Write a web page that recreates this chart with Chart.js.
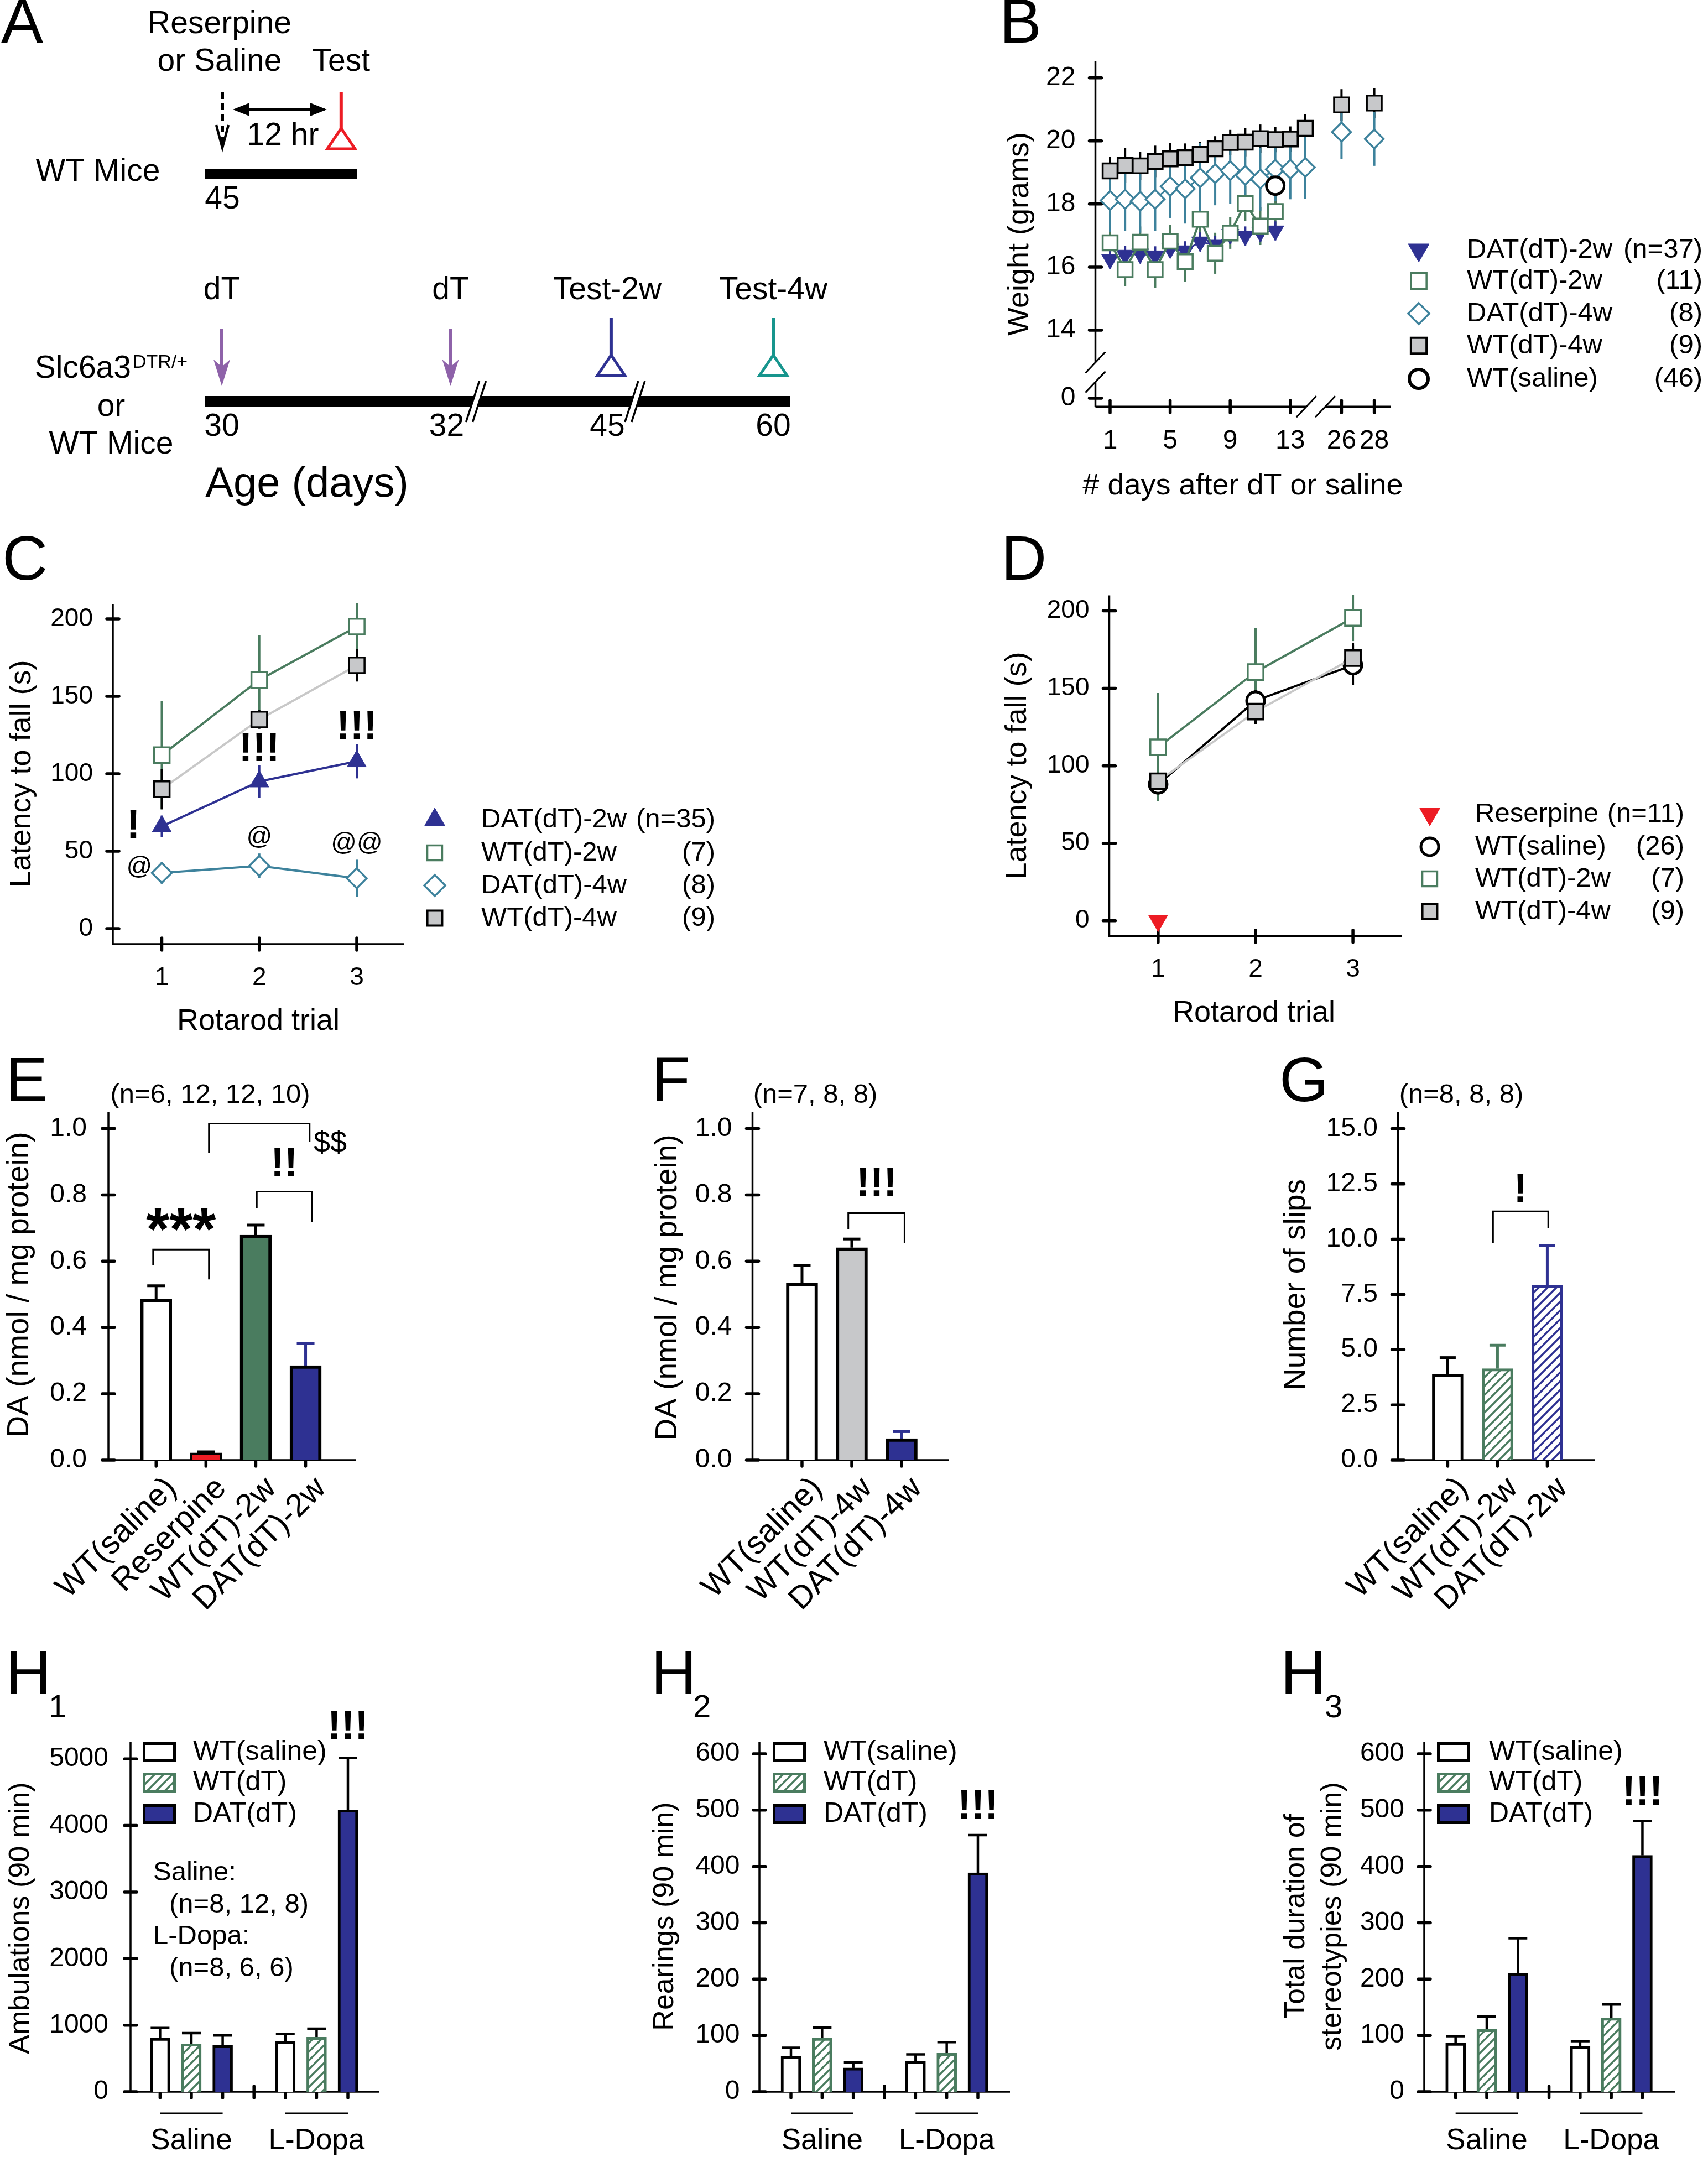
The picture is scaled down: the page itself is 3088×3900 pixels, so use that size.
<!DOCTYPE html>
<html>
<head>
<meta charset="utf-8">
<title>Figure</title>
<script src="https://cdn.jsdelivr.net/npm/chart.js@4.4.0/dist/chart.umd.min.js"></script>
<style>
  html, body { margin: 0; padding: 0; background: #fff; }
  #page { position: relative; width: 3088px; height: 3900px; overflow: hidden; background: #fff; }
  #page canvas { position: absolute; }
</style>
</head>
<body>
<div id="page"></div>
<script>
(function () {
  "use strict";

  /* ---------- Data ---------- */
  // A: timeline
  const ageTicks = [30, 32, 45, 60];
  const ageEvents = ["dT", "dT", "Test-2w", "Test-4w"];
  const treatHours = [0, 12];

  // B: body weight (grams) by day after dT or saline
  const bDays = [1, 2, 3, 4, 5, 6, 7, 8, 9, 10, 11, 12, 13, 14, 26, 28];
  const bXTicks = [1, 5, 9, 13, 26, 28];
  const bYTicks = [0, 14, 16, 18, 20, 22];
  const bWT4w     = [19.05, 19.22, 19.21, 19.35, 19.43, 19.47, 19.57, 19.75, 19.95, 19.96, 20.07, 20.04, 20.06, 20.40, 21.14, 21.20];
  const bWT4wErr  = [0.45, 0.55, 0.45, 0.5, 0.5, 0.45, 0.4, 0.4, 0.4, 0.45, 0.45, 0.4, 0.4, 0.45, 0.5, 0.47];
  const bDAT4w    = [18.11, 18.15, 18.09, 18.15, 18.56, 18.48, 18.83, 18.96, 19.06, 18.91, 18.79, 19.10, 19.10, 19.16, 20.28, 20.06];
  const bDAT4wErr = [1.0, 1.0, 1.0, 1.0, 1.0, 1.1, 1.1, 1.0, 1.05, 1.05, 1.0, 1.0, 0.95, 1.0, 0.85, 0.85];
  const bWT2w     = [16.77, 15.92, 16.79, 15.92, 16.82, 16.17, 17.52, 16.44, 17.08, 18.02, 17.30, 17.76];
  const bWT2wErr  = [0.5, 0.53, 0.5, 0.57, 0.52, 0.63, 0.55, 0.65, 0.5, 0.55, 0.6, 0.55];
  const bDAT2w    = [16.25, 16.38, 16.42, 16.36, 16.58, 16.52, 16.80, 16.70, 17.04, 16.99, 17.11, 17.15];
  const bDAT2wErr = [0.3, 0.3, 0.3, 0.3, 0.3, 0.3, 0.3, 0.3, 0.3, 0.3, 0.3, 0.3];
  const bSalDays = [12], bSaline = [18.58], bSalineErr = [0.58];

  // C / D: rotarod latency to fall (s)
  const trials = [1, 2, 3];
  const latTicks = [0, 50, 100, 150, 200];
  const cDAT2w = [66, 95, 108],      cDAT2wErr = [7, 10.5, 11];
  const cWT2w  = [112, 160.5, 195],  cWT2wErr  = [35, 29, 15];
  const cDAT4w = [36, 40.5, 32.5],   cDAT4wErr = [7, 8, 12];
  const cWT4w  = [90, 135, 170],     cWT4wErr  = [13, 6, 10.5];
  const dResTrial = [1], dReserpine = [0];
  const dSaline = [88, 142, 165],    dSalineErr = [6, 7, 13];
  const dWT2w  = [112, 160.5, 195.5], dWT2wErr = [35, 28.5, 15];
  const dWT4w  = [90, 135, 169.5],   dWT4wErr  = [4, 8, 10];

  // E / F: striatal DA (nmol / mg protein)
  const daTicks = [0, 0.2, 0.4, 0.6, 0.8, 1.0];
  const eGroups = ["WT(saline)", "Reserpine", "WT(dT)-2w", "DAT(dT)-2w"];
  const eSlots = [1, 2, 3, 4];
  const eDA = [0.486, 0.022, 0.679, 0.285], eDAErr = [0.04, 0.003, 0.03, 0.067];
  const fGroups = ["WT(saline)", "WT(dT)-4w", "DAT(dT)-4w"];
  const fSlots = [1, 2, 3];
  const fDA = [0.535, 0.641, 0.065], fDAErr = [0.053, 0.026, 0.021];

  // G: number of slips
  const slipTicks = [0, 2.5, 5, 7.5, 10, 12.5, 15];
  const gGroups = ["WT(saline)", "WT(dT)-2w", "DAT(dT)-2w"];
  const gSlots = [1, 2, 3];
  const gSlips = [3.89, 4.14, 7.91], gSlipsErr = [0.75, 1.06, 1.81];

  // H: open field, Saline vs L-Dopa
  const hGroups = ["Saline", "L-Dopa"];
  const hSeries = ["WT(saline)", "WT(dT)", "DAT(dT)"];
  const hSlotWTsal = [1, 5], hSlotWTdT = [2, 6], hSlotDAT = [3, 7];
  const hGapTick = [4];
  const h1Ticks = [0, 1000, 2000, 3000, 4000, 5000];
  const h1WTsal = [806, 760],   h1WTsalErr = [151, 111];
  const h1WTdT  = [720, 820],   h1WTdTErr  = [161, 127];
  const h1DAT   = [695, 4235],  h1DATErr   = [151, 780];
  const h23Ticks = [0, 100, 200, 300, 400, 500, 600];
  const h2WTsal = [62.5, 54.2], h2WTsalErr = [15.5, 12];
  const h2WTdT  = [95.2, 68.5], h2WTdTErr  = [18.5, 19.6];
  const h2DAT   = [42.3, 388.7], h2DATErr  = [10, 67];
  const h3WTsal = [86.3, 80.4], h3WTsalErr = [12.5, 9.5];
  const h3WTdT  = [110.7, 131], h3WTdTErr  = [23, 23.8];
  const h3DAT   = [210, 419.6], h3DATErr   = [62.5, 61.3];

  /* ---------- Styles ---------- */
  const BLACK = "#000", WHITE = "#fff", BLUE = "#2e3192", GREEN = "#4a7c5f", TEAL = "#3d829c",
        GRAY = "#c7c8ca", LGRAY = "#c8c8c8", RED = "#ed1c24", PURPLE = "#8e62a9", CYAN = "#17958d";
  const FONT = '"Liberation Sans", Arial, Helvetica, sans-serif';
  const S = {
    dat2wDown: { style: "triangle", rot: 180, r: 18, fill: BLUE, stroke: BLUE, lw: 1, line: BLUE, err: BLUE, lineW: 3 },
    wt2wB:     { style: "rect", r: 19, fill: WHITE, stroke: GREEN, lw: 3.5, line: GREEN, err: GREEN, lineW: 4 },
    dat4wB:    { style: "rectRot", r: 17, fill: WHITE, stroke: TEAL, lw: 3.5, line: TEAL, err: TEAL, lineW: 3 },
    wt4wB:     { style: "rect", r: 19, fill: GRAY, stroke: BLACK, lw: 3.5, line: BLACK, err: BLACK, lineW: 3 },
    salineB:   { style: "circle", r: 16, fill: WHITE, stroke: BLACK, lw: 5, line: null, err: BLACK },
    dat2wUp:   { style: "triangle", rot: 0, r: 20, fill: BLUE, stroke: BLUE, lw: 1, line: BLUE, err: BLUE },
    wt2w:      { style: "rect", r: 20, fill: WHITE, stroke: GREEN, lw: 3.5, line: GREEN, err: GREEN },
    dat4w:     { style: "rectRot", r: 18, fill: WHITE, stroke: TEAL, lw: 3.5, line: TEAL, err: TEAL },
    wt4w:      { style: "rect", r: 20, fill: GRAY, stroke: BLACK, lw: 3.5, line: LGRAY, err: BLACK },
    saline:    { style: "circle", r: 16, fill: WHITE, stroke: BLACK, lw: 5, line: BLACK, err: BLACK },
    reserpine: { style: "triangle", rot: 180, r: 20, fill: RED, stroke: RED, lw: 1, line: null, err: RED }
  };
  const big = (st, r, lw) => Object.assign({}, st, { r, lw: lw || st.lw });

  /* ---------- Helpers ---------- */
  const page = document.getElementById("page");

  function seg(ctx, x1, y1, x2, y2) { ctx.beginPath(); ctx.moveTo(x1, y1); ctx.lineTo(x2, y2); ctx.stroke(); }

  function txt(ctx, t, x, y, size, op) {
    op = op || {};
    ctx.save();
    ctx.font = (op.weight || "normal") + " " + size + "px " + FONT;
    ctx.fillStyle = op.color || "#000";
    ctx.textAlign = op.align || "center";
    ctx.textBaseline = op.baseline || "middle";
    ctx.translate(x, y);
    if (op.rot) ctx.rotate(op.rot * Math.PI / 180);
    ctx.fillText(t, 0, 0);
    ctx.restore();
  }

  function marker(ctx, m, x, y) {
    const r = m.r;
    ctx.save();
    ctx.fillStyle = m.fill; ctx.strokeStyle = m.stroke; ctx.lineWidth = m.lw;
    ctx.beginPath();
    if (m.style === "rect") { const s = r * Math.SQRT1_2; ctx.rect(x - s, y - s, 2 * s, 2 * s); }
    else if (m.style === "rectRot") { ctx.moveTo(x - r, y); ctx.lineTo(x, y - r); ctx.lineTo(x + r, y); ctx.lineTo(x, y + r); ctx.closePath(); }
    else if (m.style === "triangle") {
      let a = (m.rot || 0) * Math.PI / 180;
      for (let k = 0; k < 3; k++) {
        const px = x + Math.sin(a) * r, py = y - Math.cos(a) * r;
        if (k) ctx.lineTo(px, py); else ctx.moveTo(px, py);
        a += 2 * Math.PI / 3;
      }
      ctx.closePath();
    } else ctx.arc(x, y, r, 0, 2 * Math.PI);
    ctx.fill();
    if (m.lw) ctx.stroke();
    ctx.restore();
  }

  function hatch(color) {
    const s = 16, c = document.createElement("canvas");
    c.width = c.height = s;
    const g = c.getContext("2d");
    g.fillStyle = "#fff"; g.fillRect(0, 0, s, s);
    g.strokeStyle = color; g.lineWidth = 3.5;
    g.beginPath();
    g.moveTo(0, s); g.lineTo(s, 0);
    g.moveTo(-2, 2); g.lineTo(2, -2);
    g.moveTo(s - 2, s + 2); g.lineTo(s + 2, s - 2);
    g.stroke();
    return g.createPattern(c, "repeat");
  }

  function pts(xs, ys, fx) { return ys.map((y, i) => ({ x: fx ? fx(xs[i]) : xs[i], y })); }

  function lineDS(data, err, st, cutX) {
    const ds = {
      data, err, errColor: st.err, errWidth: 4,
      showLine: !!st.line, borderColor: st.line || "rgba(0,0,0,0)", borderWidth: st.lineW || 4,
      pointStyle: st.style, pointRotation: st.rot || 0, pointRadius: st.r,
      pointBackgroundColor: st.fill, pointBorderColor: st.stroke, pointBorderWidth: st.lw,
      tension: 0, clip: false, fill: false
    };
    if (cutX) ds.segment = { borderColor: c => (c.p1.parsed.x > cutX ? "rgba(0,0,0,0)" : undefined) };
    return ds;
  }

  function drawAxes(chart, a) {
    const ctx = chart.ctx, xs = chart.scales.x, ys = chart.scales.y, ca = chart.chartArea;
    const X0 = ca.left, Y0 = ca.bottom;
    ctx.save();
    ctx.strokeStyle = "#000";
    ctx.lineWidth = 3.5;
    if (a.yBreak) {
      const p = a.yBreak.map(v => ys.getPixelForValue(v));
      seg(ctx, X0, ca.top, X0, p[0]); seg(ctx, X0, p[1], X0, Y0);
      ctx.lineWidth = 3;
      p.forEach(q => seg(ctx, X0 - 18, q + 19, X0 + 18, q - 19));
      ctx.lineWidth = 3.5;
    } else seg(ctx, X0, ca.top, X0, Y0);
    if (a.xBreak) {
      const p = a.xBreak.map(v => xs.getPixelForValue(v));
      seg(ctx, X0, Y0, p[0], Y0); seg(ctx, p[1], Y0, ca.right, Y0);
      ctx.lineWidth = 3;
      p.forEach(q => seg(ctx, q - 18, Y0 + 19, q + 18, Y0 - 19));
    } else seg(ctx, X0 - 1.75, Y0, ca.right, Y0);
    ctx.lineWidth = 5.5; ctx.lineCap = "round";
    a.yTicks.forEach(v => { const p = ys.getPixelForValue(v); seg(ctx, X0 - 11, p, X0 + 11, p); });
    a.xTicks.forEach(v => {
      const p = xs.getPixelForValue(v);
      if (a.xTickBelow) seg(ctx, p, Y0 + 3, p, Y0 + 11); else seg(ctx, p, Y0 - 11, p, Y0 + 11);
    });
    (a.xCross || []).forEach(v => { const p = xs.getPixelForValue(v); seg(ctx, p, Y0 - 10, p, Y0 + 11); });
    ctx.restore();
    a.yTicks.forEach((v, i) => txt(ctx, a.yLabels[i], X0 - a.yGap, ys.getPixelForValue(v), a.size, { align: "right" }));
    if (a.xLabels) a.xTicks.forEach((v, i) => {
      const p = xs.getPixelForValue(v);
      if (a.xRot) txt(ctx, a.xLabels[i], p + a.xDx, Y0 + a.xGap, a.xSize || a.size, { align: "right", rot: -a.xRot });
      else txt(ctx, a.xLabels[i], p, Y0 + a.xGap, a.xSize || a.size);
    });
  }

  function drawErrors(chart) {
    const ctx = chart.ctx, ys = chart.scales.y;
    chart.data.datasets.forEach((ds, i) => {
      if (!ds.err) return;
      const meta = chart.getDatasetMeta(i);
      ctx.save();
      ctx.lineWidth = ds.errWidth || 4;
      meta.data.forEach((el, j) => {
        const e = ds.err[j];
        if (e == null) return;
        const v = ds.data[j].y;
        ctx.strokeStyle = Array.isArray(ds.errColor) ? ds.errColor[j] : ds.errColor;
        const top = ys.getPixelForValue(v + e);
        const bot = ds.errUp ? el.y : ys.getPixelForValue(v - e);
        seg(ctx, el.x, top, el.x, bot);
        if (ds.errCap) seg(ctx, el.x - ds.errCap / 2, top, el.x + ds.errCap / 2, top);
      });
      ctx.restore();
    });
  }

  function drawLegend(ctx, L) {
    L.rows.forEach(r => {
      marker(ctx, r.m, L.mx, r.y);
      txt(ctx, r.label, L.tx, r.y, L.size, { align: "left" });
      if (r.count) txt(ctx, r.count, L.rx, r.y, L.size, { align: "right" });
    });
  }

  function drawBoxLegend(ctx, L) {
    L.rows.forEach(r => {
      ctx.save();
      ctx.fillStyle = r.fill;
      ctx.fillRect(L.bx, r.y - L.bh / 2, L.bw, L.bh);
      ctx.strokeStyle = r.stroke; ctx.lineWidth = 5;
      ctx.strokeRect(L.bx + 2.5, r.y - L.bh / 2 + 2.5, L.bw - 5, L.bh - 5);
      ctx.restore();
      txt(ctx, r.label, L.tx, r.y, L.size, { align: "left" });
    });
  }

  const sci = {
    id: "sci",
    beforeDatasetsDraw(chart, args, o) {
      if (o.axes) drawAxes(chart, o.axes);
      drawErrors(chart);
    },
    afterDatasetsDraw(chart, args, o) {
      const ctx = chart.ctx, xs = chart.scales.x, ys = chart.scales.y;
      const ox = o.origin[0], oy = o.origin[1];
      ctx.save();
      ctx.strokeStyle = "#000"; ctx.lineWidth = 3;
      (o.brackets || []).forEach(b => {
        const x1 = xs.getPixelForValue(b.x1), x2 = xs.getPixelForValue(b.x2), yt = ys.getPixelForValue(b.top);
        ctx.beginPath();
        ctx.moveTo(x1, ys.getPixelForValue(b.l)); ctx.lineTo(x1, yt);
        ctx.lineTo(x2, yt); ctx.lineTo(x2, ys.getPixelForValue(b.r));
        ctx.stroke();
      });
      (o.marks || []).forEach(m => txt(ctx, m.t, xs.getPixelForValue(m.x), ys.getPixelForValue(m.y), m.size, m));
      if (o.groups) {
        const G = o.groups;
        G.spans.forEach((s, i) => {
          const a = xs.getPixelForValue(s[0]), b = xs.getPixelForValue(s[s.length - 1]);
          seg(ctx, a, G.lineY - oy, b, G.lineY - oy);
          txt(ctx, G.labels[i], (a + b) / 2, G.y - oy, G.size);
        });
      }
      ctx.translate(-ox, -oy);
      (o.texts || []).forEach(t => txt(ctx, t.t, t.x, t.y, t.size, t));
      if (o.legend) drawLegend(ctx, o.legend);
      if (o.boxLegend) drawBoxLegend(ctx, o.boxLegend);
      if (o.extra) o.extra(ctx, chart);
      ctx.restore();
    }
  };

  function panel(box, plot, cfg) {
    const c = document.createElement("canvas");
    c.width = box.w; c.height = box.h;
    Object.assign(c.style, { left: box.x + "px", top: box.y + "px", width: box.w + "px", height: box.h + "px" });
    page.appendChild(c);
    const o = cfg.options;
    o.responsive = false; o.maintainAspectRatio = false; o.animation = false; o.devicePixelRatio = 1; o.events = [];
    o.layout = { padding: { left: plot.l - box.x, top: plot.t - box.y, right: box.x + box.w - plot.r, bottom: box.y + box.h - plot.b } };
    o.plugins = Object.assign({ legend: { display: false }, tooltip: { enabled: false } }, o.plugins);
    o.plugins.sci = Object.assign({ origin: [box.x, box.y] }, o.plugins.sci);
    Object.values(o.scales).forEach(s => { s.display = false; if (!s.type) s.type = "linear"; });
    cfg.plugins = [sci];
    return new Chart(c, cfg);
  }

  function letter(t, x, y) { return { t, x, y, size: 114, align: "left" }; }

  /* ---------- A: experimental timeline ---------- */
  function agePos(a) { return a <= 32 ? a : a <= 45 ? 32 + (a - 32) * 0.108 : 33.404 + (a - 45) * 0.0945; }

  function testMarker(ctx, x, y0, y1, y2, color) {
    ctx.save();
    ctx.strokeStyle = color; ctx.lineWidth = 6;
    seg(ctx, x, y0, x, y1);
    ctx.lineWidth = 5;
    ctx.beginPath(); ctx.moveTo(x, y1); ctx.lineTo(x - 25, y2); ctx.lineTo(x + 25, y2); ctx.closePath(); ctx.stroke();
    ctx.restore();
  }

  function drawSchematic(ctx, chart) {
    const xs = chart.scales.x, xh = chart.scales.xh;
    const ax = a => xs.getPixelForValue(agePos(a));
    const h0 = xh.getPixelForValue(treatHours[0]), h1 = xh.getPixelForValue(treatHours[1]);
    const F = 57;
    ctx.save();
    txt(ctx, "Reserpine", h0 - 5, 44, F);
    txt(ctx, "or Saline", h0 - 5, 112, F);
    txt(ctx, "Test", h1, 112, F);
    ctx.strokeStyle = BLACK; ctx.fillStyle = BLACK;
    ctx.lineWidth = 6; ctx.setLineDash([12, 8]);
    seg(ctx, h0, 167, h0, 258);
    ctx.setLineDash([]);
    ctx.lineWidth = 4.5;
    ctx.beginPath(); ctx.moveTo(h0 - 11, 226); ctx.lineTo(h0, 267); ctx.lineTo(h0 + 11, 226); ctx.stroke();
    ctx.lineWidth = 4;
    seg(ctx, h0 + 30, 198, h1 - 30, 198);
    [[h0 + 19, 1], [h1 - 26, -1]].forEach(([x, d]) => {
      ctx.beginPath(); ctx.moveTo(x, 198); ctx.lineTo(x + d * 30, 186); ctx.lineTo(x + d * 30, 210); ctx.closePath(); ctx.fill();
    });
    txt(ctx, "12 hr", (h0 + h1) / 2 + 2, 246, F);
    testMarker(ctx, h1, 166, 232, 269, RED);
    txt(ctx, "WT Mice", 177, 311, F);
    ctx.fillRect(h0 - 32, 306, h1 - h0 + 61, 18);
    txt(ctx, "45", h0, 361, F);

    ageTicks.forEach((a, i) => {
      const x = ax(a);
      txt(ctx, ageEvents[i], x - (i === 2 ? 7 : 0), 525, F);
      if (ageEvents[i] === "dT") {
        ctx.strokeStyle = PURPLE; ctx.fillStyle = PURPLE; ctx.lineWidth = 6;
        seg(ctx, x, 594, x, 680);
        ctx.beginPath(); ctx.moveTo(x, 698); ctx.lineTo(x - 15, 650); ctx.lineTo(x, 663); ctx.lineTo(x + 15, 650); ctx.closePath(); ctx.fill();
      } else testMarker(ctx, x, 575, 642, 679, i === 2 ? BLUE : CYAN);
    });
    ctx.fillStyle = BLACK;
    ctx.fillRect(ax(30) - 31, 716, ax(60) - ax(30) + 62, 19);
    [ax(32) + 46, ax(45) + 43].forEach(x => {
      ctx.fillStyle = WHITE;
      ctx.beginPath(); ctx.moveTo(x - 18, 763); ctx.lineTo(x + 6, 689); ctx.lineTo(x + 18, 689); ctx.lineTo(x - 6, 763); ctx.closePath(); ctx.fill();
      ctx.strokeStyle = BLACK; ctx.lineWidth = 3.5;
      seg(ctx, x - 18, 763, x + 6, 689); seg(ctx, x - 6, 763, x + 18, 689);
    });
    ageTicks.forEach(a => txt(ctx, String(a), ax(a) - (a === 32 || a === 45 ? 7 : 0), 772, F));
    txt(ctx, "Slc6a3", 237, 667, F, { align: "right" });
    txt(ctx, "DTR/+", 240, 656, 34, { align: "left" });
    txt(ctx, "or", 201, 736, F);
    txt(ctx, "WT Mice", 201, 804, F);
    txt(ctx, "Age (days)", 555, 877, 76);
    ctx.restore();
  }

  panel({ x: 0, y: 0, w: 1560, h: 940 }, { l: 401, r: 1398, t: 0, b: 940 }, {
    type: "line", data: { datasets: [] },
    options: {
      scales: {
        x: { type: "linear", min: agePos(30), max: agePos(60) },
        xh: { type: "linear", axis: "x", min: -0.056, max: 55.64 },
        y: { type: "linear", min: 0, max: 1 }
      },
      plugins: { sci: { texts: [letter("A", 2, 46)], extra: drawSchematic } }
    }
  });

  /* ---------- B: weight ---------- */
  function bX(d) { return d <= 14 ? d : 16.41 + (d - 26) * 1.09; }
  function bY(v) { return v === 0 ? 11.846 : v; }

  panel({ x: 1700, y: 0, w: 1388, h: 930 }, { l: 1980.5, r: 2515, t: 111, b: 735.3 }, {
    type: "line",
    data: { datasets: [
      lineDS(pts(bSalDays, bSaline, bX), bSalineErr, S.salineB),
      lineDS(pts(bDays, bWT4w, bX), bWT4wErr, S.wt4wB, 15),
      lineDS(pts(bDays, bWT2w, bX), bWT2wErr, S.wt2wB),
      lineDS(pts(bDays, bDAT4w, bX), bDAT4wErr, S.dat4wB, 15),
      lineDS(pts(bDays, bDAT2w, bX), bDAT2wErr, S.dat2wDown)
    ] },
    options: {
      scales: { x: { min: 0.024, max: 19.71 }, y: { min: 11.577, max: 22.52 } },
      plugins: { sci: {
        axes: { yTicks: bYTicks.map(bY), yLabels: bYTicks.map(String), yGap: 36, xTicks: bXTicks.map(bX), xLabels: bXTicks.map(String),
                xGap: 62, size: 48, yBreak: [12.98, 12.36], xBreak: [14.07, 15.33] },
        texts: [
          letter("B", 1807, 46),
          { t: "Weight (grams)", x: 1844, y: 423, size: 54, rot: -90 },
          { t: "# days after dT or saline", x: 2247, y: 879, size: 54 }
        ],
        legend: { mx: 2565, tx: 2652, rx: 3078, size: 49, rows: [
          { y: 452, label: "DAT(dT)-2w", count: "(n=37)", m: big(S.dat2wDown, 22) },
          { y: 508, label: "WT(dT)-2w", count: "(11)", m: big(S.wt2wB, 20) },
          { y: 567, label: "DAT(dT)-4w", count: "(8)", m: big(S.dat4wB, 19) },
          { y: 625, label: "WT(dT)-4w", count: "(9)", m: big(S.wt4wB, 20, 4) },
          { y: 685, label: "WT(saline)", count: "(46)", m: big(S.salineB, 17, 6) }
        ] }
      } }
    }
  });

  /* ---------- C: rotarod, dT groups ---------- */
  panel({ x: 0, y: 960, w: 1330, h: 930 }, { l: 204, r: 731, t: 1092, b: 1707 }, {
    type: "line",
    data: { datasets: [
      lineDS(pts(trials, cDAT2w), cDAT2wErr, S.dat2wUp),
      lineDS(pts(trials, cWT2w), cWT2wErr, S.wt2w),
      lineDS(pts(trials, cWT4w), cWT4wErr, S.wt4w),
      lineDS(pts(trials, cDAT4w), cDAT4wErr, S.dat4w)
    ] },
    options: {
      scales: { x: { min: 0.498, max: 3.488 }, y: { min: -10, max: 209.6 } },
      plugins: { sci: {
        axes: { yTicks: latTicks, yLabels: latTicks.map(String), yGap: 36, xTicks: trials, xLabels: trials.map(String), xGap: 61, size: 46 },
        marks: [
          { t: "!", x: 0.708, y: 66, size: 74, weight: "bold" },
          { t: "!!!", x: 2, y: 115.4, size: 74, weight: "bold" },
          { t: "!!!", x: 3, y: 129.6, size: 74, weight: "bold" },
          { t: "@", x: 0.77, y: 39.6, size: 46 },
          { t: "@", x: 2, y: 58.9, size: 46 },
          { t: "@@", x: 3, y: 55, size: 46 }
        ],
        texts: [
          letter("C", 4, 1017),
          { t: "Latency to fall (s)", x: 40, y: 1399, size: 54, rot: -90 },
          { t: "Rotarod trial", x: 467, y: 1847, size: 54 }
        ],
        legend: { mx: 786, tx: 870, rx: 1293, size: 49, rows: [
          { y: 1482, label: "DAT(dT)-2w", count: "(n=35)", m: big(S.dat2wUp, 21) },
          { y: 1542, label: "WT(dT)-2w", count: "(7)", m: big(S.wt2w, 19) },
          { y: 1601, label: "DAT(dT)-4w", count: "(8)", m: big(S.dat4w, 19) },
          { y: 1660, label: "WT(dT)-4w", count: "(9)", m: big(S.wt4w, 19, 4) }
        ] }
      } }
    }
  });

  /* ---------- D: rotarod, reserpine ---------- */
  panel({ x: 1740, y: 950, w: 1348, h: 940 }, { l: 2005.5, r: 2535, t: 1076.5, b: 1692.8 }, {
    type: "line",
    data: { datasets: [
      lineDS(pts(trials, dWT2w), dWT2wErr, S.wt2w),
      lineDS(pts(trials, dWT4w), dWT4wErr, S.wt4w),
      lineDS(pts(trials, dSaline), dSalineErr, S.saline),
      lineDS(pts(dResTrial, dReserpine), null, S.reserpine)
    ] },
    options: {
      scales: { x: { min: 0.498, max: 3.505 }, y: { min: -10, max: 210 } },
      plugins: { sci: {
        axes: { yTicks: latTicks, yLabels: latTicks.map(String), yGap: 36, xTicks: trials, xLabels: trials.map(String), xGap: 61, size: 46 },
        texts: [
          letter("D", 1810, 1017),
          { t: "Latency to fall (s)", x: 1840, y: 1384, size: 54, rot: -90 },
          { t: "Rotarod trial", x: 2267, y: 1832, size: 54 }
        ],
        legend: { mx: 2585, tx: 2667, rx: 3045, size: 49, rows: [
          { y: 1472, label: "Reserpine", count: "(n=11)", m: big(S.reserpine, 21) },
          { y: 1531, label: "WT(saline)", count: "(26)", m: big(S.saline, 16) },
          { y: 1589, label: "WT(dT)-2w", count: "(7)", m: big(S.wt2w, 19) },
          { y: 1648, label: "WT(dT)-4w", count: "(9)", m: big(S.wt4w, 19, 4) }
        ] }
      } }
    }
  });

  /* ---------- E / F / G: bar panels ---------- */
  function barAxes(ticks, slots, names, gap, dp) {
    return { yTicks: ticks, yLabels: ticks.map(v => v.toFixed(dp)), yGap: gap, xTicks: slots, xLabels: names,
             xTickBelow: true, xRot: 45, xDx: 28, xGap: 42, size: 48, xSize: 58 };
  }

  panel({ x: 0, y: 1900, w: 760, h: 1040 }, { l: 196, r: 643, t: 2010, b: 2640 }, {
    type: "bar",
    data: { datasets: [{
      data: pts(eSlots, eDA), backgroundColor: [WHITE, RED, GREEN, BLUE], borderColor: BLACK, borderWidth: [6, 4, 6, 6],
      barThickness: 57, err: eDAErr, errColor: [BLACK, BLACK, BLACK, BLUE], errUp: true, errCap: 32, errWidth: 5
    }] },
    options: {
      scales: { x: { type: "linear", min: 0.043, max: 5.004, offset: false }, y: { min: 0, max: 1.051 } },
      plugins: { sci: {
        axes: barAxes(daTicks, eSlots, eGroups, 39, 1),
        brackets: [
          { x1: 0.94, x2: 2.06, top: 0.635, l: 0.589, r: 0.545 },
          { x1: 3.02, x2: 4.13, top: 0.81, l: 0.76, r: 0.718 },
          { x1: 2.06, x2: 4.08, top: 1.015, l: 0.927, r: 0.96 }
        ],
        marks: [
          { t: "***", x: 1.5, y: 0.635, size: 108, weight: "bold", baseline: "alphabetic" },
          { t: "!!", x: 3.57, y: 0.89, size: 74, weight: "bold" },
          { t: "$$", x: 4.16, y: 0.954, size: 54, align: "left" }
        ],
        texts: [
          letter("E", 10, 1960),
          { t: "(n=6, 12, 12, 10)", x: 380, y: 1980, size: 49 },
          { t: "DA (nmol / mg protein)", x: 36, y: 2323, size: 55, rot: -90 }
        ]
      } }
    }
  });

  panel({ x: 1143, y: 1900, w: 600, h: 1040 }, { l: 1360.5, r: 1715, t: 2010, b: 2640 }, {
    type: "bar",
    data: { datasets: [{
      data: pts(fSlots, fDA), backgroundColor: [WHITE, GRAY, BLUE], borderColor: BLACK, borderWidth: 6,
      barThickness: 57, err: fDAErr, errColor: [BLACK, BLACK, BLUE], errUp: true, errCap: 31, errWidth: 5
    }] },
    options: {
      scales: { x: { type: "linear", min: 0.006, max: 3.944, offset: false }, y: { min: 0, max: 1.051 } },
      plugins: { sci: {
        axes: barAxes(daTicks, fSlots, fGroups, 37, 1),
        brackets: [{ x1: 1.93, x2: 3.06, top: 0.745, l: 0.697, r: 0.654 }],
        marks: [{ t: "!!!", x: 2.5, y: 0.832, size: 74, weight: "bold" }],
        texts: [
          letter("F", 1178, 1960),
          { t: "(n=7, 8, 8)", x: 1474, y: 1980, size: 49 },
          { t: "DA (nmol / mg protein)", x: 1208, y: 2328, size: 55, rot: -90 }
        ]
      } }
    }
  });

  panel({ x: 2250, y: 1900, w: 700, h: 1040 }, { l: 2527.5, r: 2884, t: 2010, b: 2640 }, {
    type: "bar",
    data: { datasets: [{
      data: pts(gSlots, gSlips), backgroundColor: [WHITE, hatch(GREEN), hatch(BLUE)], borderColor: [BLACK, GREEN, BLUE], borderWidth: 5,
      barThickness: 56, err: gSlipsErr, errColor: [BLACK, GREEN, BLUE], errUp: true, errCap: 29, errWidth: 5
    }] },
    options: {
      scales: { x: { type: "linear", min: 0.001, max: 3.962, offset: false }, y: { min: 0, max: 15.77 } },
      plugins: { sci: {
        axes: barAxes(slipTicks, gSlots, gGroups, 36.5, 1),
        brackets: [{ x1: 1.91, x2: 3.02, top: 11.26, l: 9.84, r: 10.5 }],
        marks: [{ t: "!", x: 2.46, y: 12.19, size: 74, weight: "bold" }],
        texts: [
          letter("G", 2313, 1960),
          { t: "(n=8, 8, 8)", x: 2642, y: 1980, size: 49 },
          { t: "Number of slips", x: 2344, y: 2323, size: 55, rot: -90 }
        ]
      } }
    }
  });

  /* ---------- H1-H3: open field ---------- */
  const hFill = [WHITE, hatch(GREEN), BLUE], hBorder = [BLACK, GREEN, BLACK];
  const hSlotSets = [hSlotWTsal, hSlotWTdT, hSlotDAT];
  const hSpans = hGroups.map((g, i) => hSlotSets.map(s => s[i]));

  function hPanel(box, plot, xr, yMax, ticks, gap, vals, errs, bangY, lx, texts) {
    const barTicks = [].concat(...hSlotSets).sort((a, b) => a - b);
    return panel(box, plot, {
      type: "bar",
      data: { datasets: hSeries.map((name, s) => ({
        label: name, data: pts(hSlotSets[s], vals[s]), backgroundColor: hFill[s], borderColor: hBorder[s], borderWidth: 5,
        barThickness: 36, grouped: false, err: errs[s], errColor: BLACK, errUp: true, errCap: 34, errWidth: 4.5
      })) },
      options: {
        scales: { x: { type: "linear", min: xr[0], max: xr[1], offset: false }, y: { min: 0, max: yMax } },
        plugins: { sci: {
          axes: { yTicks: ticks, yLabels: ticks.map(String), yGap: gap, xTicks: barTicks, xTickBelow: true, xCross: hGapTick, size: 48 },
          marks: [{ t: "!!!", x: hSlotDAT[1], y: bangY, size: 74, weight: "bold" }],
          groups: { labels: hGroups, spans: hSpans, y: 3871, lineY: 3821, size: 53 },
          boxLegend: { bx: lx[0], bw: 60, bh: 36, tx: lx[1], size: 50, rows: hSeries.map((name, s) => ({ y: [3168, 3223, 3280][s], label: name, fill: hFill[s], stroke: hBorder[s] })) },
          texts
        } }
      }
    });
  }

  hPanel({ x: 0, y: 2940, w: 760, h: 960 }, { l: 236, r: 686, t: 3150, b: 3782 }, [0.057, 8.007], 5251, h1Ticks, 40,
    [h1WTsal, h1WTdT, h1DAT], [h1WTsalErr, h1WTdTErr, h1DATErr], 5467, [258, 349], [
      letter("H", 10, 3032), { t: "1", x: 88, y: 3089, size: 58, align: "left" },
      { t: "Ambulations (90 min)", x: 38, y: 3468, size: 52, rot: -90 },
      { t: "Saline:", x: 277, y: 3386, size: 49, align: "left" },
      { t: "(n=8, 12, 8)", x: 306, y: 3444, size: 49, align: "left" },
      { t: "L-Dopa:", x: 277, y: 3501, size: 49, align: "left" },
      { t: "(n=8, 6, 6)", x: 306, y: 3559, size: 49, align: "left" }
    ]);

  hPanel({ x: 1150, y: 2940, w: 720, h: 960 }, { l: 1373, r: 1826, t: 3150, b: 3782 }, [-0.012, 8.03], 620.6, h23Ticks, 35.5,
    [h2WTsal, h2WTdT, h2DAT], [h2WTsalErr, h2WTdTErr, h2DATErr], 505, [1397, 1489], [
      letter("H", 1177, 3032), { t: "2", x: 1253, y: 3089, size: 58, align: "left" },
      { t: "Rearings (90 min)", x: 1203, y: 3465, size: 52, rot: -90 }
    ]);

  hPanel({ x: 2280, y: 2940, w: 808, h: 960 }, { l: 2575, r: 3028, t: 3150, b: 3782 }, [-0.007, 8.04], 620.6, h23Ticks, 36,
    [h3WTsal, h3WTdT, h3DAT], [h3WTsalErr, h3WTdTErr, h3DATErr], 530, [2598, 2692], [
      letter("H", 2315, 3032), { t: "3", x: 2395, y: 3089, size: 58, align: "left" },
      { t: "Total duration of", x: 2344, y: 3465, size: 52, rot: -90 },
      { t: "stereotypies (90 min)", x: 2410, y: 3465, size: 52, rot: -90 }
    ]);
})();
</script>
</body>
</html>
